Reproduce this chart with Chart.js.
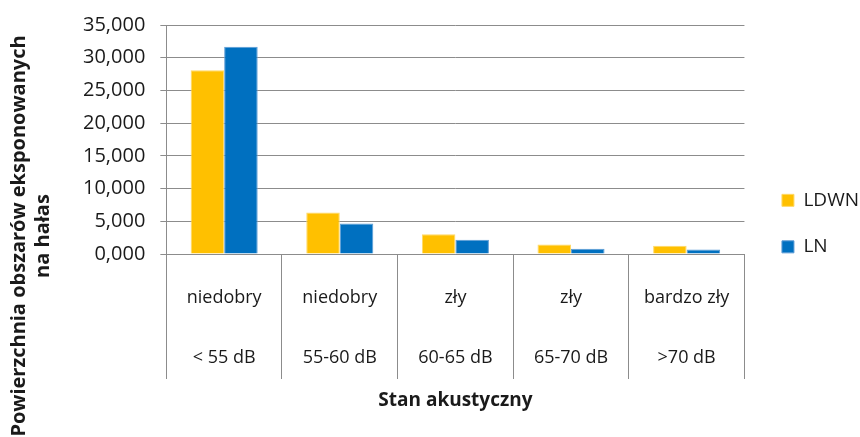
<!DOCTYPE html>
<html>
<head>
<meta charset="utf-8">
<script src="https://cdn.jsdelivr.net/npm/chart.js@4/dist/chart.umd.min.js"></script>
<style>
  html, body { margin: 0; padding: 0; background: #ffffff; }
  #wrap { width: 860px; height: 437px; position: relative; }
</style>
</head>
<body>
<div id="wrap"><canvas id="c" width="860" height="437"></canvas></div>
<script>
const categories = [
  ['niedobry', '< 55 dB'],
  ['niedobry', '55-60 dB'],
  ['zły', '60-65 dB'],
  ['zły', '65-70 dB'],
  ['bardzo zły', '>70 dB']
];
const seriesNames = ['LDWN', 'LN'];
const ldwnValues = [28.09, 6.36, 3.03, 1.47, 1.27];
const lnValues = [31.67, 4.65, 2.18, 0.82, 0.67];
const yTickMax = 35;
const yTickStep = 5;
const yTitle = ['Powierzchnia obszarów eksponowanych', 'na hałas'];
const xTitle = 'Stan akustyczny';

const gridColor = '#8c8c8c';
const textColor = '#1a1a1a';
const fontFamily = "'Open Sans', 'Noto Sans', sans-serif";

// Draws the (two-line, rotated) y axis title as real canvas text
const yTitlePlugin = {
  id: 'yTitlePlugin',
  afterDraw(chart) {
    const ctx = chart.ctx;
    ctx.save();
    ctx.fillStyle = textColor;
    ctx.font = "bold 20px " + fontFamily;
    ctx.textAlign = 'center';
    ctx.textBaseline = 'middle';
    const xs = [19, 43];
    const cy = 236;
    yTitle.forEach((line, i) => {
      ctx.save();
      ctx.translate(xs[i], cy);
      ctx.rotate(-Math.PI / 2);
      ctx.fillText(line, 0, 0);
      ctx.restore();
    });
    ctx.restore();
  }
};

new Chart(document.getElementById('c'), {
  type: 'bar',
  data: {
    labels: categories,
    datasets: [
      { label: seriesNames[0], data: ldwnValues, backgroundColor: '#FFC000', borderColor: '#FFD966', borderWidth: 1 },
      { label: seriesNames[1], data: lnValues, backgroundColor: '#0070C0', borderColor: '#5B9BD5', borderWidth: 1 }
    ]
  },
  plugins: [yTitlePlugin],
  options: {
    responsive: false,
    animation: false,
    devicePixelRatio: 1,
    layout: { padding: { top: 12, left: 68, right: -9, bottom: 23 } },
    datasets: {
      bar: { categoryPercentage: 0.58, barPercentage: 1.0 }
    },
    plugins: {
      legend: {
        position: 'right',
        align: 'center',
        title: { display: true, text: '', font: { size: 1 }, padding: { top: 20, bottom: 0 } },
        labels: {
          boxWidth: 12,
          boxHeight: 12,
          padding: 27.5,
          color: textColor,
          font: { family: fontFamily, size: 19 }
        }
      },
      tooltip: { enabled: false }
    },
    scales: {
      x: {
        border: { display: true, color: gridColor, width: 1 },
        grid: {
          display: true,
          drawOnChartArea: false,
          drawTicks: true,
          tickLength: 125,
          color: gridColor,
          offset: true
        },
        ticks: {
          padding: -110.5,
          color: textColor,
          maxRotation: 0,
          autoSkip: false,
          font: { family: fontFamily, size: 18, lineHeight: 3.3 }
        },
        title: {
          display: true,
          text: xTitle,
          color: textColor,
          font: { family: fontFamily, size: 19, weight: 'bold' },
          padding: { top: 2, bottom: 2 }
        },
        afterFit(scale) { scale.height = 160; }
      },
      y: {
        min: 0,
        max: yTickMax,
        border: { display: true, color: gridColor, width: 1 },
        grid: {
          color: gridColor,
          lineWidth: 1,
          drawTicks: true,
          tickLength: 6
        },
        ticks: {
          stepSize: yTickStep,
          padding: 15,
          color: textColor,
          font: { family: fontFamily, size: 20, lineHeight: 1.0 },
          callback: (v) => Number(v).toFixed(3).replace('.', ',')
        }
      },
      spacer: {
        type: 'linear',
        position: 'right',
        display: true,
        grid: { display: false, drawTicks: false },
        border: { display: false },
        ticks: { display: false },
        afterFit(scale) { scale.width = 10; }
      }
    }
  }
});
</script>
</body>
</html>
